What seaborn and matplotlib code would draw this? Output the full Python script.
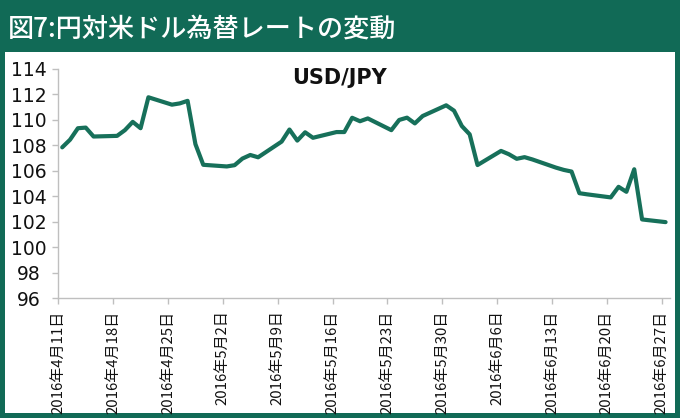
import matplotlib
matplotlib.use("Agg")
import matplotlib.pyplot as plt
from matplotlib.patches import Rectangle
import pandas as pd
import seaborn as sns

# ---------------- data ----------------
dates = [
    "2016-04-11", "2016-04-12", "2016-04-13", "2016-04-14", "2016-04-15",
    "2016-04-18", "2016-04-19", "2016-04-20", "2016-04-21", "2016-04-22",
    "2016-04-25", "2016-04-26", "2016-04-27", "2016-04-28", "2016-04-29",
    "2016-05-02", "2016-05-03", "2016-05-04", "2016-05-05", "2016-05-06",
    "2016-05-09", "2016-05-10", "2016-05-11", "2016-05-12", "2016-05-13",
    "2016-05-16", "2016-05-17", "2016-05-18", "2016-05-19", "2016-05-20",
    "2016-05-23", "2016-05-24", "2016-05-25", "2016-05-26", "2016-05-27",
    "2016-05-30", "2016-05-31", "2016-06-01", "2016-06-02", "2016-06-03",
    "2016-06-06", "2016-06-07", "2016-06-08", "2016-06-09", "2016-06-10",
    "2016-06-13", "2016-06-14", "2016-06-15", "2016-06-16", "2016-06-17",
    "2016-06-20", "2016-06-21", "2016-06-22", "2016-06-23", "2016-06-24",
    "2016-06-27",
]
usd_jpy = [
    107.85, 108.45, 109.35, 109.40, 108.70,
    108.75, 109.20, 109.85, 109.35, 111.78,
    111.20, 111.30, 111.50, 108.10, 106.48,
    106.35, 106.45, 106.97, 107.25, 107.07,
    108.30, 109.25, 108.38, 109.03, 108.60,
    109.05, 109.05, 110.17, 109.90, 110.12,
    109.20, 110.00, 110.18, 109.73, 110.31,
    111.15, 110.73, 109.52, 108.87, 106.46,
    107.57, 107.31, 106.95, 107.08, 106.90,
    106.26, 106.08, 105.95, 104.25, 104.16,
    103.92, 104.75, 104.36, 106.13, 102.19,
    101.98,
]
x_tick_dates = ["2016-04-11", "2016-04-18", "2016-04-25", "2016-05-02",
                "2016-05-09", "2016-05-16", "2016-05-23", "2016-05-30",
                "2016-06-06", "2016-06-13", "2016-06-20", "2016-06-27"]
x_tick_labels = ["2016年4月11日", "2016年4月18日", "2016年4月25日", "2016年5月2日",
                 "2016年5月9日", "2016年5月16日", "2016年5月23日", "2016年5月30日",
                 "2016年6月6日", "2016年6月13日", "2016年6月20日", "2016年6月27日"]
y_ticks = [96, 98, 100, 102, 104, 106, 108, 110, 112, 114]

fig_title = "図7:円対米ドル為替レートの変動"
chart_title = "USD/JPY"

# ---------------- style ----------------
sns.set_theme(style="white")
plt.rcParams["font.family"] = ["DejaVu Sans", "Noto Sans CJK JP"]
CJK = ["Noto Sans CJK JP", "DejaVu Sans"]

BG = "#116a56"
LINE = "#17705a"
AXIS = "#bfbfbf"

W, H = 680, 418
fig = plt.figure(figsize=(W / 100, H / 100), dpi=100)
fig.patch.set_facecolor(BG)
fig.patches.append(Rectangle((5 / W, (H - 413) / H), 670 / W, 361 / H,
                             transform=fig.transFigure, facecolor="white",
                             edgecolor="none", zorder=-10))

x0, x1 = 58.3, 669.5
y_top, y_bot = 69.0, 298.3
ax = fig.add_axes([x0 / W, (H - y_bot) / H, (x1 - x0) / W, (y_bot - y_top) / H])
ax.set_zorder(5)
ax.set_facecolor("white")

df = pd.DataFrame({"date": pd.to_datetime(dates) + pd.Timedelta(hours=12),
                   "rate": usd_jpy})
sns.lineplot(data=df, x="date", y="rate", ax=ax, color=LINE, linewidth=3.0)

ax.set_xlim(pd.Timestamp("2016-04-11"), pd.Timestamp("2016-06-28"))
ax.set_ylim(96, 114)
ax.set_yticks(y_ticks)
ax.set_yticklabels([str(v) for v in y_ticks], fontsize=13.5, color="#111111")
for lbl in ax.get_yticklabels():
    lbl.set_ha("center")
ax.set_xticks(pd.to_datetime(x_tick_dates))
ax.set_xticklabels(x_tick_labels, rotation=90, fontsize=10.8, family=CJK,
                   color="#111111")
ax.set_xlabel("")
ax.set_ylabel("")

for s in ["top", "right"]:
    ax.spines[s].set_visible(False)
for s in ["left", "bottom"]:
    ax.spines[s].set_color(AXIS)
    ax.spines[s].set_linewidth(1.0)
ax.tick_params(axis="both", bottom=True, left=True, direction="out",
               length=4.3, width=1.0, color=AXIS)
ax.tick_params(axis="y", pad=16.8)
ax.tick_params(axis="x", pad=4.5)
ax.grid(False)

fig.text(8 / W, 1 - 29 / H, fig_title, color="white", fontsize=18.8,
         family=CJK, fontweight="medium", ha="left", va="center", zorder=10)
fig.text(340 / W, 1 - 78 / H, chart_title, fontsize=15, fontweight="bold",
         ha="center", va="center", color="#111111", zorder=10)

fig.savefig("out.png", dpi=100, facecolor=fig.get_facecolor())
